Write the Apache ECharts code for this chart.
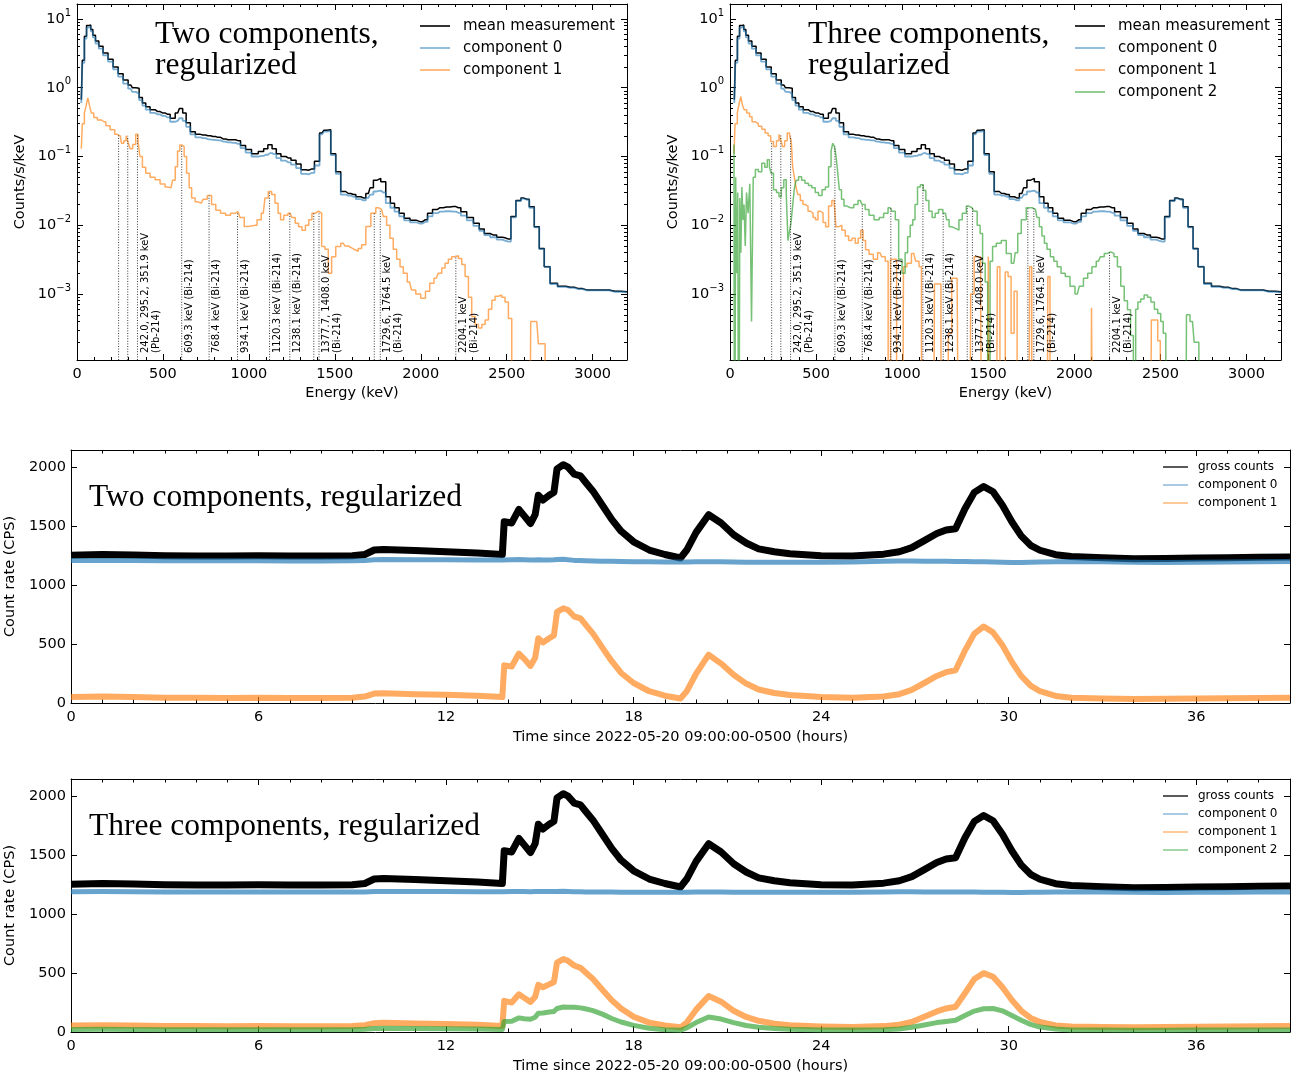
<!DOCTYPE html>
<html>
<head>
<meta charset="utf-8">
<script src="https://cdn.jsdelivr.net/npm/echarts@6/dist/echarts.min.js"></script>
<style>
  html, body { margin: 0; padding: 0; background: #fff; }
  #chart { width: 1298px; height: 1077px; }
</style>
</head>
<body>
<div id="chart"></div>
<script>
const FONT = 'DejaVu Sans';
const SERIF = 'Liberation Serif';

// ---- spectra (counts/s/keV) ----
const specEnergy = [
  25, 37, 49, 62, 74, 86, 98, 117, 137, 166,
  195, 225, 254, 283, 312, 332, 352, 371, 390, 410,
  440, 469, 498, 527, 557, 586, 605, 625, 645, 674,
  703, 733, 762, 791, 820, 850, 879, 908, 937, 966,
  996, 1035, 1074, 1098, 1123, 1147, 1172, 1201, 1230, 1260,
  1289, 1318, 1347, 1367, 1396, 1426, 1445, 1462, 1491, 1520,
  1549, 1578, 1608, 1637, 1666, 1695, 1715, 1734, 1753, 1782,
  1811, 1835, 1860, 1889, 1918, 1957, 1996, 2025, 2054, 2083,
  2112, 2150, 2190, 2219, 2248, 2287, 2326, 2355, 2384, 2423,
  2461, 2490, 2510, 2539, 2568, 2597, 2617, 2646, 2675, 2704,
  2733, 2772, 2820, 2869, 2918, 2966, 3063, 3130, 3200
];
const meanSpec = [
  0.67, 2.5, 5.6, 8.0, 8.2, 7.0, 5.8, 4.8, 4.0, 3.2,
  2.6, 2.0, 1.6, 1.3, 1.1, 1.0, 0.98, 0.72, 0.6, 0.53,
  0.48, 0.45, 0.43, 0.41, 0.36, 0.43, 0.50, 0.43, 0.31, 0.23,
  0.21, 0.205, 0.2, 0.195, 0.19, 0.18, 0.175, 0.175, 0.17, 0.145,
  0.126, 0.11, 0.118, 0.13, 0.148, 0.13, 0.11, 0.1, 0.095, 0.088,
  0.078, 0.064, 0.063, 0.066, 0.085, 0.22, 0.24, 0.245, 0.11, 0.06,
  0.031, 0.029, 0.028, 0.026, 0.025, 0.029, 0.035, 0.045, 0.048, 0.043,
  0.026, 0.021, 0.018, 0.015, 0.0127, 0.0118, 0.0113, 0.012, 0.015, 0.017,
  0.018, 0.0185, 0.0187, 0.018, 0.0158, 0.013, 0.0107, 0.0088, 0.0076, 0.0072,
  0.0067, 0.0066, 0.0063, 0.0134, 0.023, 0.025, 0.024, 0.0186, 0.0095, 0.0046,
  0.0025, 0.00144, 0.0013, 0.00126, 0.0012, 0.00115, 0.00115, 0.0011, 0.00108
];
const comp0Spec = [
  0.6, 2.3, 5.2, 7.5, 7.8, 6.6, 5.4, 4.4, 3.7, 2.95,
  2.4, 1.85, 1.45, 1.15, 0.97, 0.87, 0.82, 0.66, 0.55, 0.48,
  0.43, 0.41, 0.39, 0.37, 0.32, 0.33, 0.36, 0.33, 0.27, 0.21,
  0.19, 0.185, 0.178, 0.175, 0.172, 0.165, 0.16, 0.158, 0.153, 0.132,
  0.114, 0.1, 0.102, 0.106, 0.112, 0.108, 0.095, 0.087, 0.082, 0.076,
  0.068, 0.056, 0.055, 0.058, 0.074, 0.21, 0.23, 0.235, 0.105, 0.056,
  0.028, 0.027, 0.026, 0.024, 0.023, 0.025, 0.028, 0.031, 0.032, 0.03,
  0.021, 0.018, 0.0158, 0.0135, 0.0118, 0.011, 0.0106, 0.0112, 0.0135, 0.015,
  0.0158, 0.016, 0.0158, 0.0152, 0.0138, 0.0118, 0.0098, 0.0083, 0.0072, 0.0067,
  0.0062, 0.006, 0.0058, 0.013, 0.0225, 0.0245, 0.0235, 0.018, 0.0093, 0.0045,
  0.0025, 0.0014, 0.00127, 0.00123, 0.00118, 0.00113, 0.00113, 0.00108, 0.00106
];
// [energy keV, counts/s/keV], 0 = empty bin
const comp1TwoSpec = [
  [25, 0.13], [37, 0.3], [49, 0.43], [58, 0.55], [68, 0.71], [78, 0.55], [88, 0.43], [107, 0.37],
  [130, 0.34], [156, 0.32], [180, 0.28], [205, 0.245], [234, 0.21], [252, 0.2], [264, 0.156],
  [280, 0.17], [292, 0.2], [303, 0.16], [315, 0.13], [333, 0.15], [350, 0.21], [360, 0.17],
  [371, 0.1], [390, 0.07], [410, 0.057], [440, 0.05], [469, 0.046], [498, 0.04], [527, 0.036],
  [547, 0.035], [565, 0.045], [578, 0.071], [592, 0.12], [605, 0.147], [617, 0.14], [630, 0.1],
  [645, 0.057], [660, 0.035], [674, 0.025], [700, 0.022], [723, 0.021], [745, 0.024], [771, 0.027],
  [795, 0.02], [820, 0.0166], [850, 0.015], [879, 0.014], [908, 0.015], [937, 0.0158], [960, 0.013],
  [986, 0.0096], [1010, 0.0098], [1035, 0.01], [1060, 0.012], [1084, 0.015], [1103, 0.025],
  [1123, 0.031], [1142, 0.028], [1162, 0.021], [1178, 0.015], [1191, 0.012], [1215, 0.014],
  [1240, 0.015], [1260, 0.013], [1279, 0.0107], [1300, 0.0095], [1318, 0.0085], [1340, 0.01],
  [1357, 0.012], [1377, 0.015], [1396, 0.016], [1414, 0.015], [1433, 0.0049], [1452, 0.0045],
  [1472, 0.002], [1491, 0.0035], [1520, 0.0049], [1549, 0.0055], [1569, 0.005], [1588, 0.0047],
  [1608, 0.0044], [1627, 0.0042], [1646, 0.0046], [1666, 0.0052], [1695, 0.0096], [1724, 0.015],
  [1753, 0.018], [1772, 0.017], [1792, 0.0134], [1811, 0.01], [1830, 0.0065], [1850, 0.0045],
  [1870, 0.0032], [1889, 0.0025], [1908, 0.002], [1935, 0.0015], [1957, 0.00115], [1985, 0.001],
  [2015, 0.00087], [2040, 0.0011], [2064, 0.00144], [2090, 0.0017], [2112, 0.002], [2132, 0.0024],
  [2151, 0.0028], [2170, 0.0032], [2190, 0.0035], [2210, 0.0036], [2229, 0.0033], [2248, 0.0027],
  [2268, 0.0018], [2287, 0.0009], [2306, 0.00047], [2326, 0.00036], [2345, 0.00032], [2365, 0.00036],
  [2384, 0.00042], [2404, 0.0006], [2423, 0.00081], [2442, 0.00093], [2461, 0.00097], [2481, 0.0009],
  [2500, 0.00077], [2520, 0.00044], [2539, 0], [2630, 0], [2650, 0.0004], [2675, 0.0004],
  [2694, 0.00019], [2714, 0.00019], [2733, 0], [3200, 0]
];
const comp1ThreeSpec = [
  [23, 0.11], [36, 0.3], [49, 0.43], [58, 0.6], [68, 0.74], [78, 0.55], [87, 0.48], [107, 0.43],
  [120, 0.38], [136, 0.32], [155, 0.3], [175, 0.275], [195, 0.25], [213, 0.22], [230, 0.2],
  [243, 0.165], [262, 0.14], [278, 0.17], [291, 0.21], [300, 0.17], [310, 0.14], [325, 0.17],
  [340, 0.22], [352, 0.2], [359, 0.17], [369, 0.071], [378, 0.05], [388, 0.036], [400, 0.028],
  [417, 0.023], [430, 0.02], [446, 0.019], [460, 0.016], [475, 0.015], [490, 0.013], [504, 0.012],
  [518, 0.016], [533, 0.015], [548, 0.011], [563, 0.0095], [582, 0.019], [601, 0.023], [610, 0.021],
  [620, 0.0095], [640, 0.01], [659, 0.0085], [680, 0.007], [698, 0.006], [718, 0.0065], [737, 0.0055],
  [752, 0.0065], [766, 0.0085], [780, 0.006], [795, 0.0044], [820, 0.0038], [844, 0.0032],
  [870, 0.004], [892, 0.0035], [912, 0.003], [925, 0], [940, 0.0032], [960, 0.0032], [975, 0],
  [1000, 0], [1015, 0.0025], [1040, 0.0028], [1067, 0.0039], [1090, 0.003], [1106, 0.0025],
  [1118, 0], [1180, 0], [1195, 0.0014], [1215, 0.0014], [1235, 0], [1262, 0], [1275, 0.00027],
  [1300, 0.0017], [1319, 0.0017], [1340, 0], [1390, 0], [1406, 0.001], [1430, 0.0035],
  [1455, 0.0035], [1470, 0], [1495, 0], [1505, 0.0035], [1518, 0], [1545, 0], [1560, 0.0025],
  [1575, 0], [1592, 0], [1605, 0.0021], [1625, 0.0018], [1640, 0.00027], [1660, 0.0011],
  [1675, 0], [1735, 0], [1745, 0.0025], [1760, 0], [1840, 0], [1852, 0.0018], [1865, 0],
  [2095, 0], [2104, 0.00063], [2115, 0], [2440, 0], [2454, 0.00042], [2475, 0.00042],
  [2493, 0.00021], [2505, 0], [3200, 0]
];
const comp2ThreeSpec = [
  [23, 0.15], [30, 0], [36, 0.05], [42, 0.002], [48, 0.03], [54, 0], [60, 0.025], [66, 0.004],
  [72, 0.036], [78, 0.012], [85, 0.02], [92, 0.005], [100, 0.03], [110, 0.015], [120, 0.04],
  [130, 0.0004], [140, 0.05], [155, 0.065], [175, 0.06], [194, 0.08], [210, 0.07], [223, 0.09],
  [235, 0.07], [243, 0.057], [262, 0.033], [278, 0.03], [291, 0.026], [305, 0.035], [320, 0.046],
  [333, 0.03], [340, 0.006], [350, 0.008], [359, 0.011], [370, 0.02], [378, 0.035], [390, 0.045],
  [407, 0.051], [425, 0.045], [446, 0.041], [465, 0.038], [485, 0.035], [505, 0.03], [524, 0.027],
  [545, 0.033], [563, 0.036], [582, 0.071], [592, 0.12], [601, 0.156], [612, 0.14], [620, 0.1],
  [630, 0.06], [640, 0.033], [655, 0.024], [669, 0.019], [690, 0.018], [708, 0.018], [730, 0.02],
  [757, 0.023], [775, 0.02], [795, 0.017], [820, 0.014], [853, 0.012], [880, 0.013], [905, 0.015],
  [931, 0.018], [950, 0.016], [970, 0.012], [989, 0.0032], [1009, 0.002], [1025, 0.004],
  [1038, 0.0068], [1055, 0.01], [1067, 0.012], [1082, 0.02], [1096, 0.036], [1115, 0.039],
  [1130, 0.032], [1145, 0.023], [1165, 0.016], [1183, 0.013], [1200, 0.015], [1222, 0.017],
  [1251, 0.015], [1265, 0.012], [1280, 0.0095], [1300, 0.009], [1319, 0.0085], [1340, 0.012],
  [1358, 0.015], [1387, 0.019], [1406, 0.018], [1426, 0.016], [1445, 0.01], [1460, 0.0076],
  [1474, 0.0028], [1490, 0.0015], [1503, 0], [1518, 0.003], [1532, 0.0049], [1561, 0.0055],
  [1590, 0.006], [1619, 0.0039], [1648, 0.0028], [1665, 0.004], [1677, 0.0076], [1706, 0.012],
  [1735, 0.018], [1755, 0.018], [1774, 0.017], [1790, 0.013], [1803, 0.0095], [1820, 0.007],
  [1832, 0.0055], [1850, 0.0045], [1871, 0.0035], [1890, 0.003], [1910, 0.0025], [1935, 0.002],
  [1959, 0.0018], [1990, 0.0013], [2017, 0.001], [2040, 0.0013], [2065, 0.0017], [2090, 0.002],
  [2114, 0.0025], [2140, 0.003], [2162, 0.0035], [2185, 0.0039], [2201, 0.0041], [2220, 0.0039],
  [2240, 0.0035], [2260, 0.0025], [2279, 0.0013], [2300, 0.0008], [2317, 0.00059], [2335, 0.00025],
  [2350, 0], [2362, 0.0006], [2376, 0.00077], [2395, 0.00085], [2415, 0.00097], [2435, 0.0009],
  [2454, 0.00077], [2475, 0.0006], [2493, 0.00052], [2510, 0.0004], [2522, 0.00027], [2540, 0],
  [2645, 0], [2657, 0.0005], [2686, 0.0004], [2705, 0.0002], [2716, 0.0002], [2730, 0], [3200, 0]
];

// gamma lines marked in the spectra
const lineEnergies = [242.0, 295.2, 351.9, 609.3, 768.4, 934.1, 1120.3, 1238.1, 1377.7, 1408.0, 1729.6, 1764.5, 2204.1];
const lineLabels = [
  '', '', '242.0, 295.2, 351.9 keV\n(Pb-214)',
  '609.3 keV (Bi-214)', '768.4 keV (Bi-214)', '934.1 keV (Bi-214)',
  '1120.3 keV (Bi-214)', '1238.1 keV (Bi-214)',
  '', '1377.7, 1408.0 keV\n(Bi-214)',
  '', '1729.6, 1764.5 keV\n(Bi-214)',
  '2204.1 keV\n(Bi-214)'
];

// ---- time series (CPS) ----
const timeHours = [
  0, 1, 2, 3, 4, 5, 6, 7, 8, 9,
  9.4, 9.7, 10, 11, 12, 13, 13.8, 13.86,
  14.1, 14.33, 14.5, 14.7, 14.85, 14.95,
  15.1, 15.3, 15.45, 15.55, 15.75, 15.9,
  16.1, 16.3, 16.45, 16.7, 17.0, 17.3, 17.6, 18.0, 18.5,
  19.0, 19.5, 19.7, 20.0, 20.4, 20.8, 21.2, 21.6, 22.0, 22.5,
  23, 24, 25, 26, 26.5, 26.9, 27.3, 27.7,
  28.0, 28.3, 28.6, 28.9, 29.2, 29.5, 29.8,
  30.1, 30.4, 30.7, 31.0, 31.5,
  32, 33, 34, 35, 36, 37, 38, 39
];
const grossCounts = [
  1255, 1262, 1258, 1252, 1250, 1250, 1252, 1250, 1250, 1252,
  1262, 1300, 1305, 1295, 1285, 1275, 1262, 1540,
  1530, 1645, 1590, 1525, 1600, 1765,
  1725, 1765, 1790, 1990, 2025, 2005,
  1945, 1930, 1880, 1800, 1680, 1560, 1460, 1370, 1300,
  1262, 1232, 1300, 1450, 1600, 1530, 1430, 1360, 1310, 1285,
  1268, 1252, 1250, 1265, 1285, 1320, 1380, 1440,
  1470, 1480, 1650, 1790, 1840, 1795, 1680,
  1540, 1420, 1340, 1298, 1260,
  1245, 1235, 1225, 1228, 1232, 1235, 1238, 1240
];
const twoComp0 = [
  1210, 1212, 1210, 1208, 1208, 1208, 1208, 1207, 1207, 1208,
  1210, 1218, 1220, 1218, 1218, 1216, 1215, 1218,
  1218, 1220, 1218, 1216, 1216, 1218,
  1216, 1216, 1218, 1220, 1222, 1218,
  1212, 1210, 1208, 1206, 1205, 1204, 1202, 1200, 1200,
  1198, 1198, 1198, 1200, 1200, 1200, 1198, 1196, 1196, 1196,
  1196, 1196, 1198, 1204, 1206, 1206, 1205, 1204,
  1204, 1203, 1202, 1200, 1200, 1198, 1196,
  1194, 1194, 1196, 1198, 1200,
  1202, 1200, 1196, 1194, 1196, 1198, 1200, 1202
];
const twoComp1 = [
  50, 55, 50, 45, 45, 42, 45, 42, 42, 45,
  55, 80, 82, 75, 70, 62, 50, 320,
  310, 420, 375, 315, 385, 550,
  515, 550, 575, 775, 805, 790,
  735, 720, 670, 590, 470, 355, 255, 170, 100,
  62, 38, 100, 250, 410, 335, 240, 165, 115, 85,
  68, 50, 45, 55, 75, 112, 170, 230,
  262, 278, 445, 590, 650, 600, 490,
  350, 230, 148, 100, 60,
  45, 38, 35, 36, 38, 40, 42, 45
];
const threeComp0 = [
  1192, 1193, 1192, 1190, 1190, 1189, 1190, 1189, 1189, 1190,
  1190, 1194, 1195, 1194, 1193, 1192, 1191, 1193,
  1194, 1195, 1194, 1192, 1193, 1194,
  1193, 1193, 1194, 1195, 1196, 1194,
  1192, 1191, 1190, 1190, 1189, 1189, 1188, 1188, 1188,
  1187, 1187, 1188, 1189, 1190, 1189, 1188, 1188, 1187, 1187,
  1187, 1187, 1188, 1190, 1191, 1191, 1190, 1190,
  1190, 1190, 1189, 1189, 1188, 1188, 1187,
  1186, 1186, 1187, 1188, 1189,
  1190, 1189, 1187, 1186, 1187, 1188, 1189, 1190
];
const threeComp1 = [
  55, 58, 55, 50, 50, 48, 50, 48, 48, 50,
  58, 75, 78, 72, 68, 62, 52, 265,
  250, 320, 290, 255, 300, 400,
  380, 405, 425, 590, 620, 605,
  565, 545, 510, 450, 360, 270, 200, 130, 80,
  55, 40, 80, 190, 305, 258, 180, 128, 95, 70,
  57, 47, 42, 50, 62, 85, 130, 175,
  200, 215, 330, 450, 500, 470, 380,
  272, 180, 120, 85, 56,
  46, 42, 40, 42, 44, 46, 48, 50
];
const threeComp2 = [
  22, 24, 22, 20, 20, 20, 20, 20, 20, 20,
  24, 30, 32, 30, 28, 26, 22, 90,
  92, 120, 112, 108, 125, 160,
  162, 170, 175, 200, 212, 210,
  210, 205, 198, 182, 152, 115, 85, 56, 32,
  20, 15, 35, 80, 128, 110, 80, 55, 40, 30,
  23, 18, 16, 20, 25, 40, 60, 80,
  90, 100, 140, 178, 198, 200, 180,
  140, 100, 65, 42, 26,
  18, 16, 15, 15, 16, 17, 18, 18
];

// ---- styling ----
const C_BLACK = '#000000';
const C_BLUE = 'rgba(31,119,180,0.6)';
const C_BLUE_TS = 'rgba(31,119,180,0.68)';
const C_ORANGE = 'rgba(255,127,14,0.65)';
const C_GREEN = 'rgba(44,160,44,0.65)';
const SPEC_MIN = 1.1e-4, SPEC_MAX = 16.5, SPEC_FLOOR = 1e-7;

const grids = [
  { left: 77, top: 4, width: 550, height: 356, outerBoundsMode: 'none', containLabel: false },
  { left: 730, top: 4, width: 551, height: 356, outerBoundsMode: 'none', containLabel: false },
  { left: 71, top: 450, width: 1219, height: 253, outerBoundsMode: 'none', containLabel: false },
  { left: 71, top: 779, width: 1219, height: 253, outerBoundsMode: 'none', containLabel: false }
];

const xAxes = [];
const yAxes = [];
function addX(a) { xAxes.push(a); return xAxes.length - 1; }
function addY(a) { yAxes.push(a); return yAxes.length - 1; }

function axisBase(g, pos, type, min, max, interval, tickLen, line) {
  const a = {
    gridIndex: g, type: type, position: pos, min: min, max: max,
    axisLine: { show: line, onZero: false, lineStyle: { color: C_BLACK, width: 1 } },
    axisTick: { show: true, inside: true, length: tickLen, lineStyle: { color: C_BLACK, width: 1 } },
    axisLabel: { show: false },
    splitLine: { show: false }
  };
  if (interval) a.interval = interval;
  return a;
}
const labelStyle = {
  show: true, color: C_BLACK, fontSize: 14.5, fontFamily: FONT, showMaxLabel: false,
  formatter: v => String(v)
};
const nameStyle = { color: C_BLACK, fontSize: 14.5, fontFamily: FONT };

function supLabel(v) {
  const lg = Math.log10(v);
  const r = Math.round(lg);
  if (Math.abs(lg - r) > 1e-6) return '';
  return '{b|10}{s|' + (r < 0 ? '\u2212' + (-r) : r) + '}';
}

function specAxes(g) {
  const xb = axisBase(g, 'bottom', 'value', 0, 3200, 500, 6, true);
  xb.axisLabel = Object.assign({}, labelStyle, { margin: 7 });
  xb.name = 'Energy (keV)';
  xb.nameLocation = 'middle';
  xb.nameGap = 26;
  xb.nameTextStyle = nameStyle;
  const xi = addX(xb);
  addX(axisBase(g, 'bottom', 'value', 0, 3200, 100, 3, false));
  addX(axisBase(g, 'top', 'value', 0, 3200, 500, 6, true));
  addX(axisBase(g, 'top', 'value', 0, 3200, 100, 3, false));

  const yl = axisBase(g, 'left', 'log', SPEC_MIN, SPEC_MAX, null, 6, true);
  yl.logBase = 10;
  yl.minorTick = { show: true, splitNumber: 9, length: 3, lineStyle: { color: C_BLACK, width: 1 } };
  yl.axisLabel = {
    show: true, margin: 6, formatter: supLabel, showMinLabel: false, showMaxLabel: false,
    rich: {
      b: { fontSize: 14.5, fontFamily: FONT, color: C_BLACK },
      s: { fontSize: 10, fontFamily: FONT, color: C_BLACK, padding: [0, 0, 12, 0] }
    }
  };
  yl.name = 'Counts/s/keV';
  yl.nameLocation = 'middle';
  yl.nameGap = 49;
  yl.nameTextStyle = nameStyle;
  const yi = addY(yl);
  const yr = axisBase(g, 'right', 'log', SPEC_MIN, SPEC_MAX, null, 6, true);
  yr.logBase = 10;
  yr.minorTick = { show: true, splitNumber: 9, length: 3, lineStyle: { color: C_BLACK, width: 1 } };
  addY(yr);
  return [xi, yi];
}

function timeAxes(g) {
  const xb = axisBase(g, 'bottom', 'value', 0, 39, 6, 6, true);
  xb.axisLabel = Object.assign({}, labelStyle, { margin: 7 });
  xb.name = 'Time since 2022-05-20 09:00:00-0500 (hours)';
  xb.nameLocation = 'middle';
  xb.nameGap = 27;
  xb.nameTextStyle = nameStyle;
  const xi = addX(xb);
  addX(axisBase(g, 'bottom', 'value', 0, 39, 1, 3.5, false));
  addX(axisBase(g, 'top', 'value', 0, 39, 6, 6, true));
  addX(axisBase(g, 'top', 'value', 0, 39, 1, 3.5, false));

  const yl = axisBase(g, 'left', 'value', 0, 2150, 500, 6, true);
  yl.axisLabel = Object.assign({}, labelStyle, { margin: 5 });
  yl.name = 'Count rate (CPS)';
  yl.nameLocation = 'middle';
  yl.nameGap = 49;
  yl.nameTextStyle = nameStyle;
  const yi = addY(yl);
  addY(axisBase(g, 'right', 'value', 0, 2150, 500, 6, true));
  return [xi, yi];
}

function specLine(name, pts, color, width, ax, z) {
  return {
    type: 'line', name: name, xAxisIndex: ax[0], yAxisIndex: ax[1],
    data: pts.map(p => [p[0], p[1] > 0 ? p[1] : SPEC_FLOOR]),
    step: 'middle', symbol: 'none', clip: true, animation: false, z: z,
    lineStyle: { color: color, width: width }, itemStyle: { color: color }
  };
}
function tsLine(name, vals, color, width, ax, z) {
  return {
    type: 'line', name: name, xAxisIndex: ax[0], yAxisIndex: ax[1],
    data: timeHours.map((t, i) => [t, vals[i]]),
    symbol: 'none', clip: true, animation: false, z: z,
    lineStyle: { color: color, width: width, join: 'round' }, itemStyle: { color: color }
  };
}
function valueAt(pts, e) {
  let best = pts[0];
  for (const p of pts) if (Math.abs(p[0] - e) < Math.abs(best[0] - e)) best = p;
  return best[1];
}
function peakLines(ax, comps) {
  return {
    type: 'custom', xAxisIndex: ax[0], yAxisIndex: ax[1], silent: true, animation: false, z: 6,
    data: lineEnergies.map((e, i) => [e, Math.max.apply(null, comps.map(c => valueAt(c, e))), i]),
    renderItem: function (params, api) {
      const e = api.value(0), top = api.value(1), i = api.value(2);
      const p0 = api.coord([e, SPEC_MIN]);
      const p1 = api.coord([e, top]);
      const children = [{
        type: 'line',
        shape: { x1: p0[0], y1: p0[1], x2: p1[0], y2: p1[1] },
        style: { stroke: '#222', lineWidth: 0.9, lineDash: [1, 1.6] }
      }];
      if (lineLabels[i]) {
        children.push({
          type: 'text', x: p0[0] + 2, y: p0[1] - 7, rotation: Math.PI / 2,
          style: {
            text: lineLabels[i], fill: C_BLACK, font: '10px "DejaVu Sans"',
            align: 'left', verticalAlign: 'top', lineHeight: 11
          }
        });
      }
      return { type: 'group', children: children };
    }
  };
}

const axA = specAxes(0);
const axB = specAxes(1);
const axC = timeAxes(2);
const axD = timeAxes(3);

const meanPts = specEnergy.map((e, i) => [e, meanSpec[i]]);
const comp0Pts = specEnergy.map((e, i) => [e, comp0Spec[i]]);

const series = [
  specLine('mean measurement', meanPts, C_BLACK, 1.5, axA, 2),
  specLine('component 0', comp0Pts, C_BLUE, 1.8, axA, 3),
  specLine('component 1', comp1TwoSpec, C_ORANGE, 1.5, axA, 4),
  peakLines(axA, [comp1TwoSpec]),

  specLine('mean measurement', meanPts, C_BLACK, 1.5, axB, 2),
  specLine('component 0', comp0Pts, C_BLUE, 1.8, axB, 3),
  specLine('component 1', comp1ThreeSpec, C_ORANGE, 1.5, axB, 4),
  specLine('component 2', comp2ThreeSpec, C_GREEN, 1.5, axB, 5),
  peakLines(axB, [comp1ThreeSpec, comp2ThreeSpec]),

  tsLine('gross counts', grossCounts, C_BLACK, 7, axC, 2),
  tsLine('component 0', twoComp0, C_BLUE_TS, 5, axC, 3),
  tsLine('component 1', twoComp1, C_ORANGE, 6, axC, 4),

  tsLine('gross counts', grossCounts, C_BLACK, 7, axD, 2),
  tsLine('component 0', threeComp0, C_BLUE_TS, 5, axD, 3),
  tsLine('component 1', threeComp1, C_ORANGE, 6, axD, 4),
  tsLine('component 2', threeComp2, C_GREEN, 5, axD, 5)
];

function legendAt(names, left, top, big) {
  return {
    data: names, left: left, top: top, orient: 'vertical', selectedMode: false,
    padding: 0, icon: 'rect',
    itemWidth: big ? 30 : 25, itemHeight: big ? 1.6 : 1.3, itemGap: big ? 7 : 6,
    textStyle: {
      color: C_BLACK, fontFamily: FONT, fontSize: big ? 15 : 12, lineHeight: big ? 15 : 12,
      padding: [0, 0, 0, big ? 8 : 5]
    }
  };
}

function title(text, left, top) {
  return {
    type: 'text', left: left, top: top, silent: true,
    style: { text: text, font: '31.5px "' + SERIF + '"', fill: C_BLACK, lineHeight: 31 }
  };
}

const chart = echarts.init(document.getElementById('chart'), null, { renderer: 'canvas' });
chart.setOption({
  backgroundColor: '#fff',
  animation: false,
  grid: grids,
  xAxis: xAxes,
  yAxis: yAxes,
  legend: [
    legendAt(['mean measurement', 'component 0', 'component 1'], 420, 18.5, true),
    legendAt(['mean measurement', 'component 0', 'component 1', 'component 2'], 1075, 18.5, true),
    legendAt(['gross counts', 'component 0', 'component 1'], 1163, 461, false),
    legendAt(['gross counts', 'component 0', 'component 1', 'component 2'], 1163, 790, false)
  ],
  graphic: [
    title('Two components,\nregularized', 155, 19),
    title('Three components,\nregularized', 808, 19),
    title('Two components, regularized', 89, 482),
    title('Three components, regularized', 89, 811)
  ],
  series: series
});
</script>
</body>
</html>
